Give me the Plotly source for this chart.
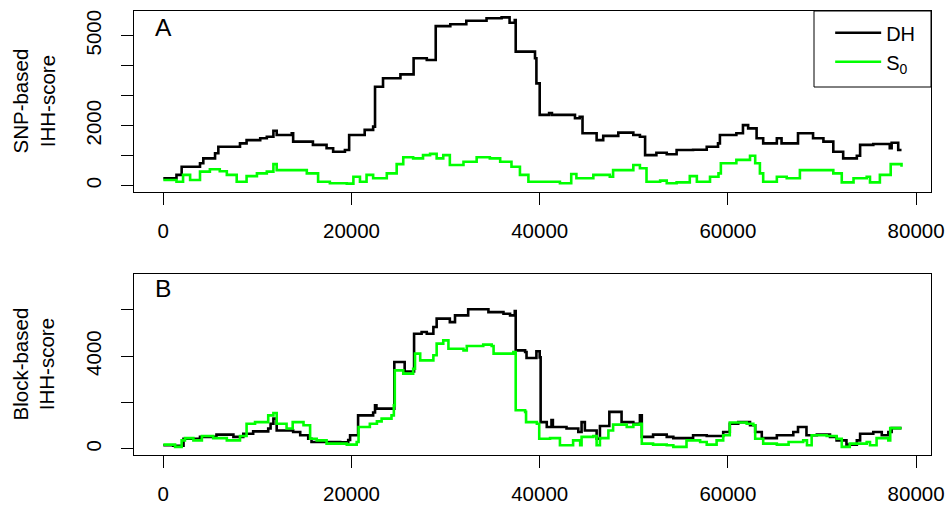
import plotly.graph_objects as go
from plotly.subplots import make_subplots

# ---- Panel A: SNP-based IHH-score ----
dhA_x = [0, 1400, 1950, 3900, 4250, 5500, 5850, 8150, 8850, 10300, 11000, 11700, 12050, 13650, 13800,
         15900, 17350, 18050, 19300, 19750, 21400, 22300, 22500, 23350, 25200, 26600, 28000, 28950,
         30500, 32200, 34350, 35950, 36800, 37350, 37450, 39500, 39650, 40000, 41000, 41300, 43750,
         44250, 44550, 46050, 46750, 48350, 49950, 50650, 51200, 52400, 53500, 54550, 56300, 57750,
         58950, 59150, 60900, 61600, 62150, 63050, 63750, 65200, 65700, 67450, 69050, 70150, 71200,
         72250, 73700, 74050, 75450, 77200, 77400, 78100, 78450]
dhA_y = [250, 360, 630, 750, 910, 1080, 1300, 1410, 1520, 1580, 1630, 1830, 1690, 1750, 1470,
         1360, 1250, 1130, 1190, 1690, 1860, 1970, 3300, 3580, 3710, 4250, 4190, 5320,
         5380, 5500, 5580, 5610, 5430, 5520, 4470, 4250, 3410, 2360, 2420, 2360, 2250,
         2300, 1750, 1520, 1660, 1770, 1690, 1630, 1020, 1100, 1050, 1190, 1200, 1300,
         1410, 1690, 1750, 2020, 1910, 1580, 1410, 1580, 1410, 1750, 1580, 1470, 1130,
         910, 1000, 1360, 1390, 1250, 1430, 1190, 1190]

s0A_x = [0, 1400, 2100, 2850, 3900, 4950, 6000, 6750, 7800, 8850, 9950, 11000, 11700, 12050, 13800,
         15250, 16450, 17700, 19500, 20200, 20900, 21600, 22300, 23750, 24800, 25500, 26550, 27600,
         28350, 29050, 29750, 30450, 31900, 33300, 34700, 35800, 37000, 37900, 38800, 40750, 42150,
         43350, 43900, 45700, 47450, 47800, 49950, 50650, 51350, 52800, 53500, 54550, 55950, 56700,
         58100, 59000, 59250, 60900, 62350, 62900, 63400, 63750, 65200, 66250, 67650, 69450, 71200,
         72100, 73350, 74750, 75100, 76150, 77050, 77300, 78450]
s0A_y = [190, 130, 360, 190, 470, 550, 480, 360, 130, 320, 410, 470, 720, 520, 520,
         410, 130, 80, 70, 300, 130, 360, 250, 410, 720, 950, 910, 1020,
         1060, 910, 1020, 690, 800, 950, 910, 800, 630, 360, 130, 130, 80,
         390, 250, 360, 300, 520, 690, 580, 130, 170, 80, 110, 320, 130,
         300, 410, 750, 860, 1000, 750, 410, 130, 300, 250, 520, 520, 410,
         110, 250, 300, 110, 360, 360, 720, 630]

# ---- Panel B: Block-based IHH-score ----
dhB_x = [0, 1050, 2150, 3900, 5650, 7450, 8500, 9550, 11150, 11400, 11700, 12050, 13800, 14550, 15400,
         15750, 18800, 19650, 19850, 20700, 22300, 22500, 22650, 24550, 25650, 26650, 27450, 28000,
         28700, 29050, 30450, 31000, 32400, 34550, 36150, 36850, 37350, 37450, 38450, 38600, 39650,
         40000, 40100, 40750, 41250, 41400, 42850, 44100, 44450, 44800, 46050, 46400, 47400, 48700,
         49950, 50650, 50850, 52050, 53500, 54200, 56300, 57750, 59500, 60200, 61100, 62350, 62900,
         63600, 65200, 66950, 67450, 68350, 69450, 70850, 71550, 72600, 73700, 74050, 75450, 76350,
         77050, 77400, 78450]
dhB_y = [160, 140, 440, 520, 620, 520, 660, 760, 880, 1090, 1310, 800, 730, 590, 440,
         300, 290, 390, 590, 1450, 1570, 1880, 1740, 3750, 3340, 4970, 5040, 4970,
         5260, 5620, 5470, 5760, 6020, 5900, 5830, 5760, 5940, 4250, 4180, 3920, 4210,
         3950, 1160, 950, 1250, 950, 880, 730, 1160, 800, 440, 990, 1600, 1160,
         1090, 1450, 520, 620, 520, 470, 590, 560, 730, 1090, 1160, 1020, 730,
         470, 590, 730, 950, 590, 620, 520, 370, 190, 370, 660, 730, 590,
         730, 900, 900]

s0B_x = [0, 1250, 1950, 2300, 3200, 4100, 5300, 6750, 8150, 8850, 9750, 11150, 11700, 12050, 13100,
         13750, 14900, 15600, 16300, 17350, 19500, 20550, 20750, 21950, 22700, 23200, 24250, 24500,
         24600, 25500, 26550, 26750, 27300, 28700, 29050, 29750, 30300, 31900, 32250, 34000, 34900,
         35100, 37200, 37450, 38450, 38550, 39700, 39950, 41100, 42150, 43550, 44300, 44450, 45700,
         46050, 46400, 47300, 47800, 49250, 49950, 50650, 50850, 52050, 53500, 54200, 55600, 57050,
         57750, 58800, 59500, 60200, 62000, 62700, 62900, 63750, 65200, 66450, 68000, 68400, 68900,
         70500, 71550, 72100, 72950, 74750, 75100, 75800, 77050, 77250, 78450]
s0B_y = [190, 90, 370, 470, 370, 560, 470, 370, 560, 1090, 1160, 1450, 1550, 1090, 880,
         1160, 1020, 440, 370, 230, 190, 300, 950, 1090, 1190, 1310, 1450, 1880,
         3390, 3250, 3460, 4110, 3820, 4040, 4540, 4680, 4320, 4250, 4440, 4500, 4440,
         4110, 4180, 1670, 1600, 1160, 1090, 440, 470, 160, 370, 160, 520, 560,
         160, 470, 800, 1050, 950, 1050, 1090, 230, 190, 160, 90, 370, 300,
         190, 370, 590, 1140, 1090, 1020, 440, 230, 190, 300, 370, 160, 590,
         560, 440, 90, 230, 300, 160, 470, 370, 900, 900]

x_ticks = [0, 20000, 40000, 60000, 80000]
yA_ticks = [0, 1000, 2000, 3000, 4000, 5000]
yA_labels = ["0", "", "2000", "", "", "5000"]
yB_ticks = [0, 2000, 4000, 6000]
yB_labels = ["0", "", "4000", ""]
series_names = ["DH", "S<sub>0</sub>"]
series_colors = ["#000000", "#00ff00"]

FONT = "Liberation Sans, Arial, Helvetica, sans-serif"
FS = 20.5

fig = make_subplots(rows=2, cols=1, vertical_spacing=0.1846)

for (xs, ys, name, col) in [(dhA_x, dhA_y, series_names[0], series_colors[0]),
                            (s0A_x, s0A_y, series_names[1], series_colors[1])]:
    fig.add_trace(go.Scatter(x=xs, y=ys, mode="lines", line=dict(color=col, width=2.6, shape="hv"),
                             name=name, showlegend=True), row=1, col=1)
for (xs, ys, name, col) in [(dhB_x, dhB_y, series_names[0], series_colors[0]),
                            (s0B_x, s0B_y, series_names[1], series_colors[1])]:
    fig.add_trace(go.Scatter(x=xs, y=ys, mode="lines", line=dict(color=col, width=2.6, shape="hv"),
                             name=name, showlegend=False), row=2, col=1)

axis_common = dict(showgrid=False, zeroline=False, showline=True, linecolor="black", linewidth=1,
                   mirror=True, ticks="outside", ticklen=12, tickwidth=1, tickcolor="black",
                   automargin=False,
                   tickfont=dict(family=FONT, size=FS, color="black"))

fig.update_xaxes(range=[-3114, 81583], tickvals=x_ticks, ticktext=[str(v) for v in x_ticks],
                 ticklabelstandoff=8, **axis_common)
fig.update_yaxes(**axis_common)
fig.update_yaxes(range=[-210, 5823], tickvals=yA_ticks, ticktext=yA_labels, tickangle=-90,
                 ticklabelstandoff=12, row=1, col=1)
fig.update_yaxes(range=[-259, 7543], tickvals=yB_ticks, ticktext=yB_labels, tickangle=-90,
                 ticklabelstandoff=12, row=2, col=1)

fig.layout.yaxis.domain = [0.5923, 1.0]
fig.layout.yaxis2.domain = [0.0, 0.4077]

annotations = [
    dict(text="SNP-based<br>IHH-score", x=0, xref="paper", y=0.79615, yref="paper", xshift=-100,
         textangle=-90, showarrow=False, xanchor="center", yanchor="middle",
         font=dict(family=FONT, size=FS, color="black")),
    dict(text="Block-based<br>IHH-score", x=0, xref="paper", y=0.20385, yref="paper", xshift=-100,
         textangle=-90, showarrow=False, xanchor="center", yanchor="middle",
         font=dict(family=FONT, size=FS, color="black")),
    dict(text="A", x=0, xref="x", y=1, yref="y domain", yshift=-16, showarrow=False,
         xanchor="center", yanchor="middle", font=dict(family=FONT, size=24.6, color="black")),
    dict(text="B", x=0, xref="x2", y=1, yref="y2 domain", yshift=-15, showarrow=False,
         xanchor="center", yanchor="middle", font=dict(family=FONT, size=24.6, color="black")),
]

# legend frame (R-style legend box in the top-right corner of panel A)
legend_frame = dict(type="rect", xref="paper", yref="paper",
                    x0=0.8532, x1=1.0, y0=0.8288, y1=1.0,
                    line=dict(color="black", width=1), fillcolor="white", layer="above")

fig.update_layout(
    width=949, height=505,
    margin=dict(l=134, r=18, t=11, b=50, autoexpand=False),
    paper_bgcolor="white", plot_bgcolor="white",
    annotations=annotations,
    shapes=[legend_frame],
    legend=dict(x=0.8735, y=0.995, xref="paper", yref="paper", xanchor="left", yanchor="top",
                borderwidth=0, bgcolor="rgba(0,0,0,0)",
                itemwidth=46,
                font=dict(family=FONT, size=20, color="black")),
    font=dict(family=FONT, color="black"),
)

fig.write_html("out.html")
